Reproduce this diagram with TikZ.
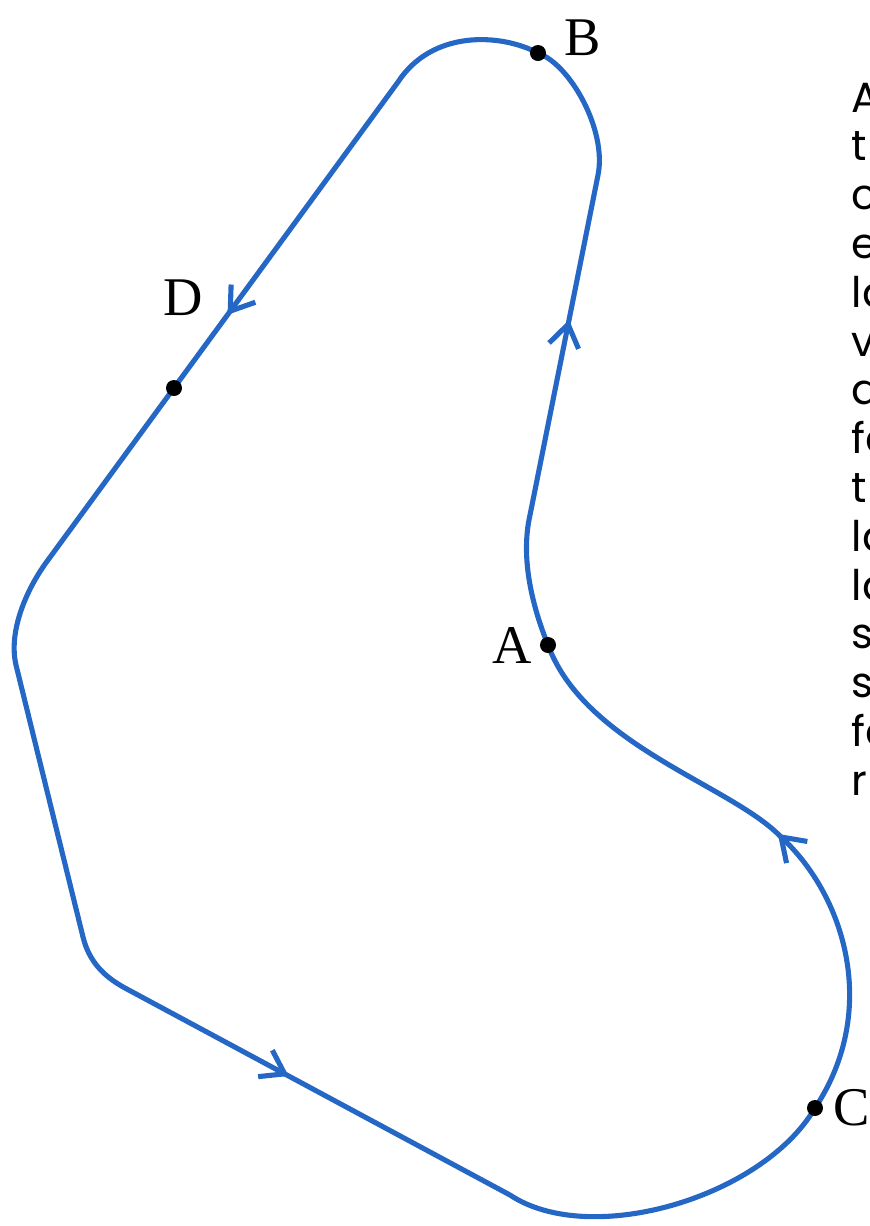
\documentclass[tikz,border=0pt]{standalone}
\usepackage{fontspec}
\setmainfont{Liberation Serif}
\newfontfamily\sidefont{Poppins}
\usetikzlibrary{arrows.meta,decorations.markings}
\definecolor{curveblue}{RGB}{36,103,196}

\begin{document}
\begin{tikzpicture}[x=0.01cm, y=-0.01cm,
  loopline/.style={curveblue, line width=1.45pt, line join=round},
  dotmark/.style={circle, fill=black, inner sep=0pt, minimum size=0.16cm},
  ptlabel/.style={font=\fontsize{15.5}{18}\selectfont, inner sep=0pt},
  sidetext/.style={font=\sidefont\fontsize{12}{14}\selectfont, inner sep=0pt, anchor=base west},
  midarrow/.style={decorate, decoration={markings,
      mark=at position #1 with {\arrow[curveblue]{Straight Barb[length=2.2mm,width=3mm,line width=1.45pt]}}}}]
  \useasboundingbox (0,0) rectangle (870,1226);

  % Points of the loop
  \coordinate (pA) at (548,645);
  \coordinate (pB) at (538,53);
  \coordinate (pC) at (815,1108);
  \coordinate (pD) at (174,388);
  \coordinate (r1) at (530,515);
  \coordinate (r2) at (598,175);
  \coordinate (l1) at (398,82);
  \coordinate (l2) at (48,560);
  \coordinate (s1) at (16,665);
  \coordinate (s2) at (83,937);
  \coordinate (b1) at (125,988);
  \coordinate (b2) at (510,1195);
  \coordinate (e1) at (780,836);

  % The closed curve
  \draw[loopline] (pA) .. controls (533,608) and (520,559) .. (r1) -- (r2)
    .. controls (607,131) and (571,65) .. (pB)
    .. controls (500,33) and (432,30) .. (l1) -- (l2)
    .. controls (27,588) and (8,631) .. (s1) -- (s2)
    .. controls (89,961) and (103,976) .. (b1) -- (b2)
    .. controls (590,1248) and (762,1198) .. (pC)
    .. controls (880,1010) and (845,895) .. (e1)
    .. controls (730,785) and (585,745) .. (pA);

  % Direction arrows
  \path[midarrow=0.574] (r1) -- (r2);
  \path[midarrow=0.487] (l1) -- (l2);
  \path[midarrow=0.425] (b1) -- (b2);
  \path[midarrow=0.01] (e1) .. controls (730,785) and (585,745) .. (pA);

  % Marked points
  \node[dotmark] (A) at (pA) {};
  \node[dotmark] (B) at (pB) {};
  \node[dotmark] (C) at (pC) {};
  \node[dotmark] (D) at (pD) {};
  \node[ptlabel] (Alabel) at (512,645) {A};
  \node[ptlabel] (Blabel) at (583,38) {B};
  \node[ptlabel] (Clabel) at (852,1108) {C};
  \node[ptlabel] (Dlabel) at (183,298) {D};

  % Text cut off at the right edge
  \foreach \frag [count=\i from 0] in {A,t,c,e,la,v,d,fa,t,la,la,s,s,fa,r}
    \node[sidetext] (side\i) at (851,112+48.8*\i) {\frag};
\end{tikzpicture}
\end{document}
